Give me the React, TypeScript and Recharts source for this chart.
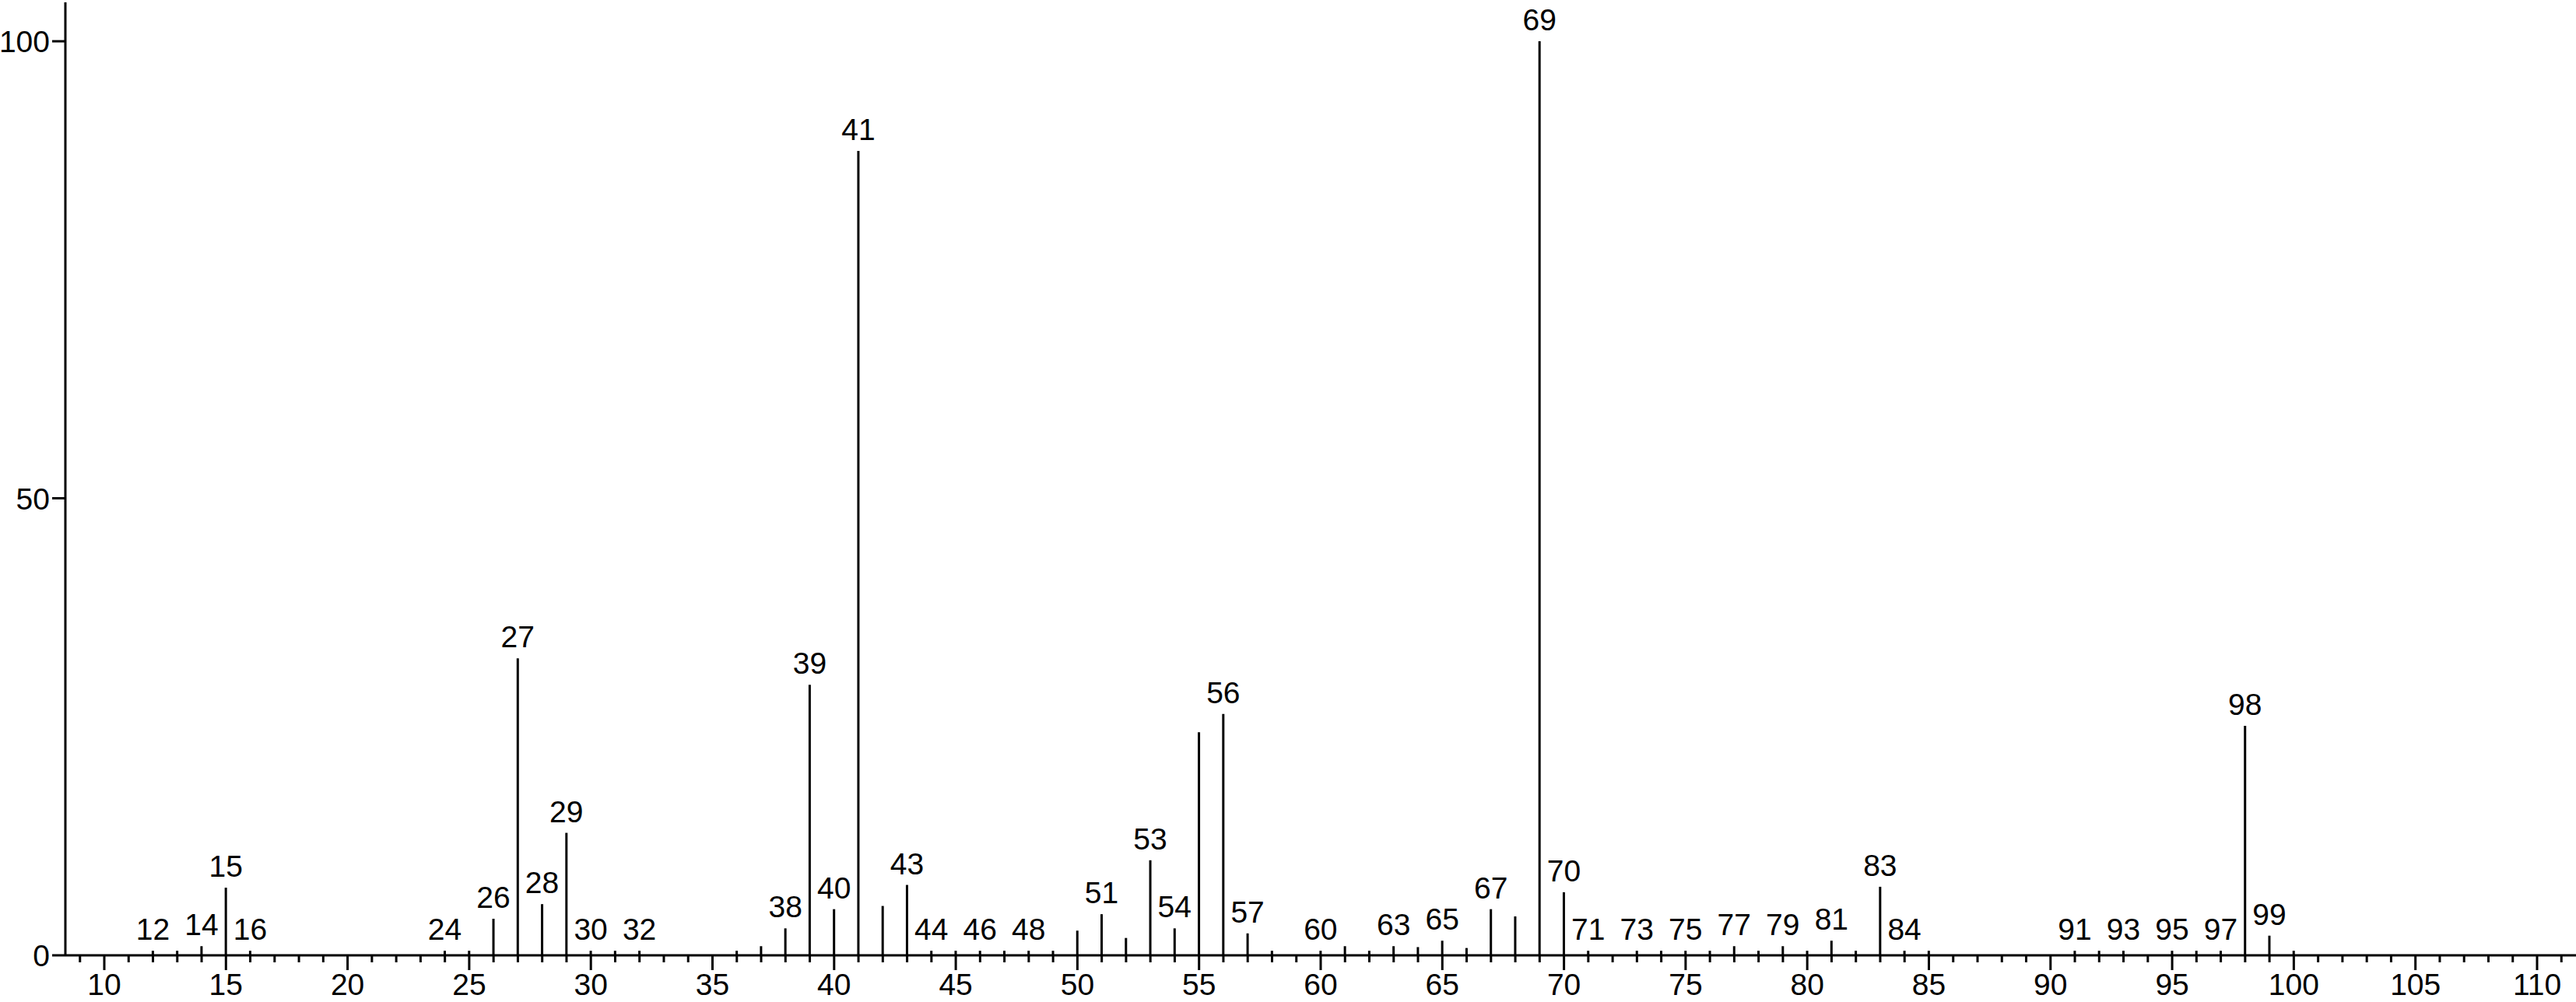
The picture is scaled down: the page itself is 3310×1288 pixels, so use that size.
import React from 'react';
import { BarChart, Bar, XAxis, YAxis, LabelList } from 'recharts';

// m/z values of the peaks
const mzValues = [
  12, 13, 14, 15, 16, 24, 25, 26, 27, 28, 29, 30, 31, 32, 36, 37, 38, 39, 40, 41,
  42, 43, 44, 45, 46, 47, 48, 49, 50, 51, 52, 53, 54, 55, 56, 57, 58, 60, 61, 62,
  63, 64, 65, 66, 67, 68, 69, 70, 71, 73, 74, 75, 76, 77, 78, 79, 80, 81, 82, 83,
  84, 85, 91, 92, 93, 95, 96, 97, 98, 99, 100,
];

// relative intensities (%)
const intensities = [
  0.5, 0.5, 1.0, 7.4, 0.5, 0.5, 0.5, 4.0, 32.5, 5.6, 13.4, 0.5, 0.5, 0.5, 0.5, 1.0, 2.95, 29.6, 5.05, 88.0,
  5.4, 7.7, 0.5, 0.5, 0.5, 0.5, 0.5, 0.5, 2.7, 4.5, 1.9, 10.4, 2.95, 24.4, 26.4, 2.4, 0.5, 0.5, 1.0, 0.5,
  1.0, 0.9, 1.6, 0.8, 5.05, 4.26, 100, 6.9, 0.5, 0.5, 0.5, 0.5, 0.5, 1.0, 0.5, 1.0, 0.5, 1.6, 0.5, 7.5,
  0.5, 0.5, 0.5, 0.5, 0.5, 0.5, 0.5, 0.5, 25.1, 2.15, 0.5,
];

// peaks that carry an m/z label
const labeledPeaks = [
  12, 14, 15, 16, 24, 26, 27, 28, 29, 30, 32, 38, 39, 40, 41, 43, 44, 46, 48, 51,
  53, 54, 56, 57, 60, 63, 65, 67, 69, 70, 71, 73, 75, 77, 79, 81, 83, 84, 91, 93,
  95, 97, 98, 99,
];

const majorTicks = [10, 15, 20, 25, 30, 35, 40, 45, 50, 55, 60, 65, 70, 75, 80, 85, 90, 95, 100, 105, 110];
const xTicks = Array.from({ length: 103 }, (_, i) => i + 9);
const yTicks = [0, 50, 100];

const data = mzValues.map((mz, i) => ({
  mz,
  intensity: intensities[i],
  label: labeledPeaks.includes(mz) ? String(mz) : null,
}));

const FONT = "'Liberation Sans Narrow', 'Liberation Sans', Arial, sans-serif";
const FS = 39;

const XTick = (props: any) => {
  const { x, y, payload } = props;
  const v = payload.value;
  const major = majorTicks.includes(v);
  return (
    <g>
      <line x1={x} x2={x} y1={y} y2={y + (major ? 19 : 9)} stroke="#000" strokeWidth={3} />
      {major && (
        <text x={x} y={y + 51} textAnchor="middle" fontFamily={FONT} fontSize={FS} fill="#000">
          {v}
        </text>
      )}
    </g>
  );
};

const YTick = (props: any) => {
  const { x, y, payload } = props;
  return (
    <g>
      <line x1={x - 17} x2={x} y1={y} y2={y} stroke="#000" strokeWidth={3} />
      <text x={x - 20} y={y + 14} textAnchor="end" fontFamily={FONT} fontSize={FS} fill="#000">
        {payload.value}
      </text>
    </g>
  );
};

const PeakLabel = (props: any) => {
  const { value } = props;
  if (value === null || value === undefined || value === '') return null;
  const vb = props.viewBox || props;
  const x = vb.x ?? props.x;
  const y = vb.y ?? props.y;
  const w = vb.width ?? props.width ?? 0;
  return (
    <text x={x + w / 2} y={y - 14} textAnchor="middle" fontFamily={FONT} fontSize={FS} fill="#000">
      {value}
    </text>
  );
};

export default function App() {
  return (
    <div style={{ position: 'absolute', left: 0, top: 0, width: 3310, height: 1288, background: '#fff' }}>
      <BarChart
        width={3310}
        height={1288}
        data={data}
        margin={{ top: 3, right: 0, bottom: 0, left: 0 }}
      >
        <XAxis
          dataKey="mz"
          type="number"
          domain={[8.4, 111.6]}
          allowDataOverflow
          ticks={xTicks}
          interval={0}
          tickSize={0}
          tickMargin={0}
          tickLine={false}
          tick={<XTick />}
          axisLine={{ stroke: '#000', strokeWidth: 3 }}
          height={60}
        />
        <YAxis
          type="number"
          domain={[0, 104.26]}
          allowDataOverflow
          ticks={yTicks}
          interval={0}
          width={84}
          tickSize={0}
          tickMargin={0}
          tickLine={false}
          tick={<YTick />}
          axisLine={{ stroke: '#000', strokeWidth: 3 }}
        />
        <Bar dataKey="intensity" fill="#000" barSize={3} isAnimationActive={false}>
          <LabelList dataKey="label" content={PeakLabel} />
        </Bar>
      </BarChart>
    </div>
  );
}
